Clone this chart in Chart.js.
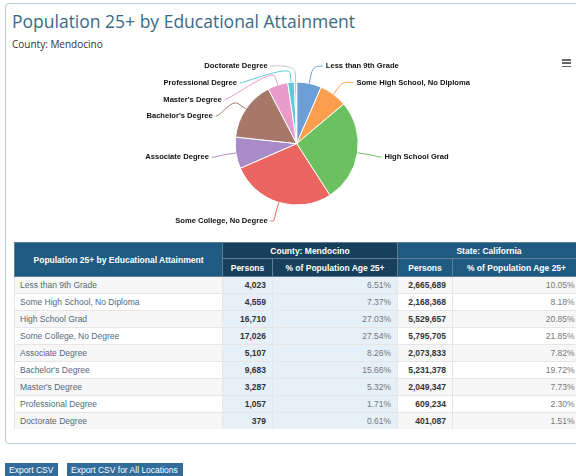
<!DOCTYPE html>
<html lang="en">
<head>
<meta charset="UTF-8">
<title>Population 25+ by Educational Attainment</title>
<script src="https://cdn.jsdelivr.net/npm/chart.js"></script>
<style>
  body { margin: 0; width: 576px; height: 476px; overflow: hidden; background: #fff; position: relative; font-family: "Liberation Sans", Arial, sans-serif; }
  .panel { position: absolute; left: 5px; top: 3px; width: 640px; height: 439px; border: 1px solid #b9cbd7; border-radius: 4px; }
  h1 { position: absolute; left: 12px; top: 13px; margin: 0; font: normal 17.5px/1 "Open Sans", sans-serif; color: #3a6a84; white-space: nowrap; }
  .sub { position: absolute; left: 12px; top: 39px; font: 10px/1 "Open Sans", sans-serif; color: #333; }
  #pieWrap { position: absolute; left: 0; top: 0; width: 576px; height: 240px; }
  .menu { position: absolute; left: 562px; top: 59px; width: 9px; }
  .menu span { display: block; height: 1.5px; background: #666; margin-bottom: 1.8px; }
  table { position: absolute; left: 14px; top: 242px; border-collapse: collapse; table-layout: fixed; width: 566px; font-size: 8.5px; }
  th { color: #fff; font-weight: bold; padding: 0; text-align: center; border: 1px solid #5f7f96; }
  th.main, th.st { background: #1f5b81; }
  th.co { background: #18405c; }
  tr.h1 th { height: 15px; }
  tr.h2 th { height: 17px; }
  td { height: 16px; padding: 0 6px; border-top: 1px solid #e6e6e6; border-left: 1px solid #e6e6e6; white-space: nowrap; }
  td.lab { color: #55697b; text-align: left; padding-left: 5px; }
  td.num { text-align: right; font-weight: bold; color: #333; }
  td.pct { text-align: right; color: #777; }
  tr.odd td { background: #f7f7f7; }
  tr td.cb { background: #e5f0f9 !important; }
  .btn { position: absolute; top: 463px; height: 14px; line-height: 14px; padding: 0 4px; background: #316c9b; color: #fff; font-size: 8.5px; }
</style>
</head>
<body>
  <div class="panel"></div>
  <h1>Population 25+ by Educational Attainment</h1>
  <div class="sub">County: Mendocino</div>
  <div id="pieWrap"><canvas id="pie" width="576" height="240"></canvas></div>
  <div class="menu"><span></span><span></span><span></span></div>
  <table id="tbl"></table>
  <div class="btn" style="left:5px;width:45px;">Export CSV</div>
  <div class="btn" style="left:67px;width:108px;">Export CSV for All Locations</div>

<script>
  const categories = ['Less than 9th Grade', 'Some High School, No Diploma', 'High School Grad', 'Some College, No Degree',
    'Associate Degree', "Bachelor's Degree", "Master's Degree", 'Professional Degree', 'Doctorate Degree'];
  const countyPersons = [4023, 4559, 16710, 17026, 5107, 9683, 3287, 1057, 379];
  const countyPct = ['6.51%', '7.37%', '27.03%', '27.54%', '8.26%', '15.66%', '5.32%', '1.71%', '0.61%'];
  const statePersons = [2665689, 2168368, 5529657, 5795705, 2073833, 5231378, 2049347, 609234, 401087];
  const statePct = ['10.05%', '8.18%', '20.85%', '21.85%', '7.82%', '19.72%', '7.73%', '2.30%', '1.51%'];
  const sliceColors = ['#6d9fd6', '#fb9f4f', '#6bc15f', '#eb6660', '#a98bc8', '#a57869', '#e99bcb', '#5ec9db', '#c4c4c4'];

  // table
  const tbl = document.getElementById('tbl');
  let html = '<colgroup><col style="width:208px"><col style="width:50px"><col style="width:125px"><col style="width:55px"><col style="width:128px"></colgroup>';
  html += '<tr class="h1"><th class="main" rowspan="2">Population 25+ by Educational Attainment</th>' +
    '<th class="co" colspan="2">County: Mendocino</th><th class="st" colspan="2">State: California</th></tr>';
  html += '<tr class="h2"><th class="co">Persons</th><th class="co">% of Population Age 25+</th>' +
    '<th class="st">Persons</th><th class="st">% of Population Age 25+</th></tr>';
  categories.forEach(function (c, i) {
    html += '<tr class="' + (i % 2 === 0 ? 'odd' : 'even') + '">' +
      '<td class="lab">' + c + '</td>' +
      '<td class="num cb">' + countyPersons[i].toLocaleString('en-US') + '</td>' +
      '<td class="pct cb">' + countyPct[i] + '</td>' +
      '<td class="num">' + statePersons[i].toLocaleString('en-US') + '</td>' +
      '<td class="pct">' + statePct[i] + '</td></tr>';
  });
  tbl.innerHTML = html;

  // outside labels with connectors, highcharts style
  const pieLabels = {
    id: 'pieLabels',
    afterDatasetsDraw(chart) {
      const ctx = chart.ctx;
      const arcs = chart.getDatasetMeta(0).data;
      const cx = arcs[0].x, cy = arcs[0].y, r = arcs[0].outerRadius;
      const dist = 28, gap = 16.7;
      const top = cy - r - 16, bottom = cy + r + 16;
      const items = arcs.map(function (arc, i) {
        const a = (arc.startAngle + arc.endAngle) / 2;
        return { i: i, a: a, left: Math.cos(a) < 0, y: cy + Math.sin(a) * (r + dist) };
      });
      // push labels apart on each side
      [true, false].forEach(function (side) {
        const list = items.filter(function (it) { return it.left === side; }).sort(function (p, q) { return p.y - q.y; });
        let prev = -Infinity;
        list.forEach(function (it) { it.y = Math.max(it.y, top, prev + gap); prev = it.y; });
        let next = Infinity;
        for (let k = list.length - 1; k >= 0; k--) {
          list[k].y = Math.min(list[k].y, bottom, next - gap);
          next = list[k].y;
        }
      });
      const ex = r + 27.5, ey = r + 20.5;
      ctx.save();
      ctx.font = 'bold 7.6px "Liberation Sans", Arial, sans-serif';
      ctx.textBaseline = 'middle';
      items.forEach(function (it) {
        const dy = (it.y - cy) / ey;
        const dx = ex * Math.sqrt(Math.max(0, 1 - dy * dy));
        const sgn = it.left ? -1 : 1;
        const x = cx + sgn * dx;
        const tx = cx + Math.cos(it.a) * r, ty = cy + Math.sin(it.a) * r;
        const bx = cx + Math.cos(it.a) * (r + 9), by = cy + Math.sin(it.a) * (r + 9);
        const sx = x - sgn * 3;
        ctx.strokeStyle = sliceColors[it.i];
        ctx.lineWidth = 1;
        ctx.beginPath();
        ctx.moveTo(sx, it.y);
        ctx.bezierCurveTo(sx - sgn * 5, it.y, 2 * bx - tx, 2 * by - ty, bx, by);
        ctx.lineTo(tx, ty);
        ctx.stroke();
        ctx.textAlign = it.left ? 'right' : 'left';
        ctx.lineWidth = 1.5;
        ctx.strokeStyle = '#fff';
        ctx.strokeText(categories[it.i], x, it.y);
        ctx.fillStyle = '#111';
        ctx.fillText(categories[it.i], x, it.y);
      });
      ctx.restore();
    }
  };

  const pieCtx = document.getElementById('pie').getContext('2d');
  const pieChart = new Chart(pieCtx, {
    type: 'pie',
    data: {
      labels: categories,
      datasets: [{
        data: countyPersons,
        backgroundColor: sliceColors,
        borderColor: '#ffffff',
        borderWidth: 1
      }]
    },
    options: {
      responsive: false,
      animation: false,
      layout: { padding: { top: 81.6, bottom: 34.4, left: 234.7, right: 217.3 } },
      plugins: {
        legend: { display: false },
        tooltip: { enabled: false }
      }
    },
    plugins: [pieLabels]
  });
</script>
</body>
</html>
